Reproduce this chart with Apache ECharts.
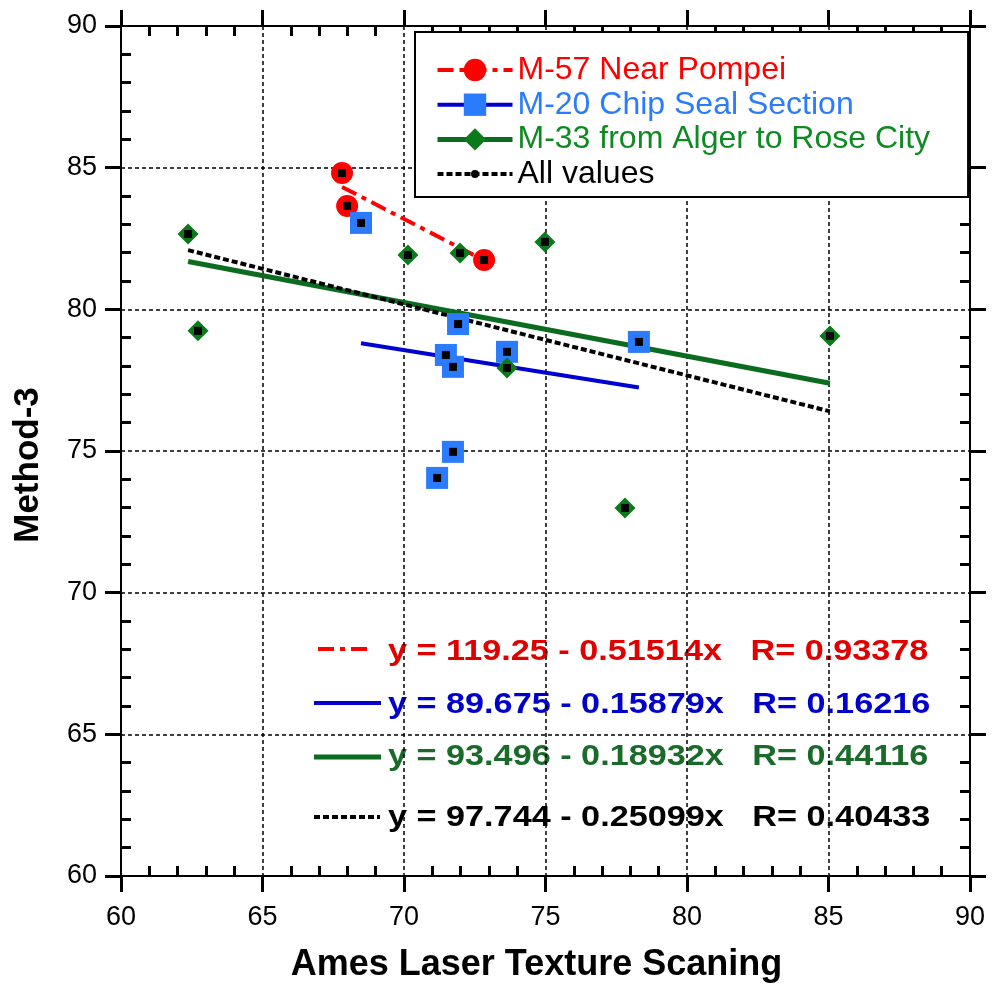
<!DOCTYPE html>
<html><head><meta charset="utf-8">
<script src="https://cdn.jsdelivr.net/npm/echarts@6/dist/echarts.min.js"></script>
<style>html,body{margin:0;padding:0;background:#fff}#c{width:992px;height:992px}</style>
</head><body><div id="c"></div><script>
// ---- data ----
const m57X = [67.81, 67.99, 72.83];
const m57Y = [84.81, 83.65, 81.74];
const m20X = [68.48, 71.91, 71.48, 71.73, 73.64, 71.73, 71.17, 78.30];
const m20Y = [83.05, 79.48, 78.39, 77.97, 78.50, 74.97, 74.05, 78.85];
const m33X = [62.37, 62.72, 70.14, 71.98, 74.98, 73.64, 77.81, 85.05];
const m33Y = [82.66, 79.24, 81.92, 81.99, 82.38, 77.93, 72.99, 79.06];
// regression line end points
const m57FitX = [67.81, 72.83];
const m57FitY = [84.32, 81.73];
const m20FitX = [68.48, 78.30];
const m20FitY = [78.80, 77.24];
const m33FitX = [62.37, 85.05];
const m33FitY = [81.69, 77.39];
const allFitX = [62.37, 85.05];
const allFitY = [82.09, 76.40];
const seriesNames = ['M-57 Near Pompei', 'M-20 Chip Seal Section', 'M-33 from Alger to Rose City', 'All values'];
const eqTexts = [
  'y = 119.25 - 0.51514x   R= 0.93378',
  'y = 89.675 - 0.15879x   R= 0.16216',
  'y = 93.496 - 0.18932x   R= 0.44116',
  'y = 97.744 - 0.25099x   R= 0.40433'
];
const xTitle = 'Ames Laser Texture Scaning';
const yTitle = 'Method-3';
const axisMin = 60, axisMax = 90, axisStep = 5;

// ---- helpers ----
const F = 'Liberation Sans, Arial, sans-serif';
const zip = (a, b) => a.map((v, i) => [v, b[i]]);
const allX = m57X.concat(m20X, m33X);
const allY = m57Y.concat(m20Y, m33Y);

function majorAxis(pos, withLabel, name, nameGap, namePad, nameSize) {
  return {
    type: 'value', position: pos, min: axisMin, max: axisMax, interval: axisStep,
    axisLine: {show: true, onZero: false, lineStyle: {color: '#000', width: 2}},
    axisTick: {show: true, inside: false, length: 16, lineStyle: {color: '#000', width: 3}},
    minorTick: {show: false},
    axisLabel: {show: withLabel, color: '#000', fontSize: 27, fontFamily: F, margin: (pos === 'bottom' ? 28 : 24)},
    splitLine: {show: withLabel, lineStyle: {color: '#000', width: 1.5, type: [4, 3]}},
    name: name || '', nameLocation: 'middle', nameGap: nameGap || 0,
    nameTextStyle: {color: '#000', fontSize: nameSize || 30, fontWeight: 'bold', fontFamily: F, padding: namePad || 0}
  };
}
function minorAxis(pos) {
  return {
    type: 'value', position: pos, min: axisMin, max: axisMax, interval: axisStep,
    axisLine: {show: false, onZero: false},
    axisTick: {show: false, inside: true},
    minorTick: {show: true, splitNumber: 5, length: 10, lineStyle: {color: '#000', width: 3}},
    axisLabel: {show: false},
    splitLine: {show: false}
  };
}

let allIcon = 'path://M0 0 M75 28 ';
for (let x = 0; x < 75; x += 9) { const w = Math.min(6, 75 - x); allIcon += 'M' + x + ' 12h' + w + 'v4h-' + w + 'z '; }
allIcon += 'M33.5 14a4 4 0 1 1 8 0a4 4 0 1 1 -8 0z';

const chart = echarts.init(document.getElementById('c'), null, {renderer: 'canvas'});
chart.setOption({
  animation: false,
  backgroundColor: '#fff',
  grid: {left: 121, top: 26, right: 22, bottom: 116, containLabel: false, outerBoundsMode: 'none'},
  xAxis: [
    majorAxis('bottom', true, xTitle, 71, [0, 18, 0, 0], 36),
    minorAxis('bottom'),
    majorAxis('top', false),
    minorAxis('top')
  ],
  yAxis: [
    majorAxis('left', true, yTitle, 75, [0, 28, 0, 0], 35),
    minorAxis('left'),
    majorAxis('right', false),
    minorAxis('right')
  ],
  legend: {
    show: true, left: 415, top: 32, orient: 'vertical',
    itemWidth: 75, itemHeight: 28, itemGap: 2.7,
    padding: [22, 38, 7, 20],
    backgroundColor: '#fff', borderColor: '#000', borderWidth: 2, borderRadius: 0,
    selectedMode: false,
    lineStyle: {width: 'inherit'},
    textStyle: {fontSize: 32, fontFamily: F, lineHeight: 28},
    data: [
      {name: seriesNames[0], textStyle: {color: '#ff0000'}},
      {name: seriesNames[1], textStyle: {color: '#2b7bff'}},
      {name: seriesNames[2], textStyle: {color: '#0f8a22'}},
      {name: seriesNames[3], textStyle: {color: '#000'}, icon: allIcon, itemStyle: {borderWidth: 0}}
    ]
  },
  series: [
    {type: 'line', name: seriesNames[0], data: zip(m57FitX, m57FitY), symbol: 'circle', symbolSize: 22, showSymbol: false,
     lineStyle: {color: '#ff0000', width: 4, type: [16, 6, 5, 6]}, itemStyle: {color: '#ff0000', borderWidth: 0}, silent: true, z: 2},
    {type: 'line', name: seriesNames[1], data: zip(m20FitX, m20FitY), symbol: 'rect', symbolSize: 22, showSymbol: false,
     lineStyle: {color: '#0000d0', width: 4}, itemStyle: {color: '#2b7bff', borderWidth: 0}, silent: true, z: 2},
    {type: 'line', name: seriesNames[2], data: zip(m33FitX, m33FitY), symbol: 'diamond', symbolSize: 22, showSymbol: false,
     lineStyle: {color: '#0b6b1f', width: 5}, itemStyle: {color: '#0a7a1a', borderWidth: 0}, silent: true, z: 2},
    {type: 'line', name: seriesNames[3], data: zip(allFitX, allFitY), symbol: 'circle', symbolSize: 8, showSymbol: false,
     lineStyle: {color: '#000', width: 4, type: [6, 3]}, itemStyle: {color: '#000', borderWidth: 0}, silent: true, z: 2},
    {type: 'scatter', name: 'pts57', data: zip(m57X, m57Y), symbol: 'circle', symbolSize: 22, itemStyle: {color: '#ff0000', opacity: 1}, z: 3},
    {type: 'scatter', name: 'pts20', data: zip(m20X, m20Y), symbol: 'rect', symbolSize: 22, itemStyle: {color: '#2b7bff', opacity: 1}, z: 3},
    {type: 'scatter', name: 'pts33', data: zip(m33X, m33Y), symbol: 'diamond', symbolSize: 21, itemStyle: {color: '#0a7a1a', opacity: 1}, z: 3},
    {type: 'scatter', name: 'ptsAll', data: zip(allX, allY), symbol: 'rect', symbolSize: 8, itemStyle: {color: '#000', opacity: 1}, z: 4}
  ],
  graphic: [
    {type: 'line', shape: {x1: 318, y1: 649, x2: 373, y2: 649}, style: {stroke: '#ff0000', lineWidth: 4, lineDash: [16, 6, 5, 6]}},
    {type: 'line', shape: {x1: 314, y1: 703, x2: 381, y2: 703}, style: {stroke: '#0000d0', lineWidth: 4}},
    {type: 'line', shape: {x1: 314, y1: 757, x2: 381, y2: 757}, style: {stroke: '#0b6b1f', lineWidth: 5}},
    {type: 'line', shape: {x1: 314, y1: 817, x2: 380, y2: 817}, style: {stroke: '#000', lineWidth: 4, lineDash: [6, 3]}},
    {type: 'text', x: 388, y: 652, scaleX: 1.18, style: {text: eqTexts[0], fill: '#e00000', fontSize: 29, fontWeight: 'bold', fontFamily: F, verticalAlign: 'middle'}},
    {type: 'text', x: 388, y: 705, scaleX: 1.18, style: {text: eqTexts[1], fill: '#0000cc', fontSize: 29, fontWeight: 'bold', fontFamily: F, verticalAlign: 'middle'}},
    {type: 'text', x: 388, y: 757, scaleX: 1.18, style: {text: eqTexts[2], fill: '#1a6b2a', fontSize: 29, fontWeight: 'bold', fontFamily: F, verticalAlign: 'middle'}},
    {type: 'text', x: 388, y: 818, scaleX: 1.18, style: {text: eqTexts[3], fill: '#000', fontSize: 29, fontWeight: 'bold', fontFamily: F, verticalAlign: 'middle'}}
  ]
});
</script></body></html>
